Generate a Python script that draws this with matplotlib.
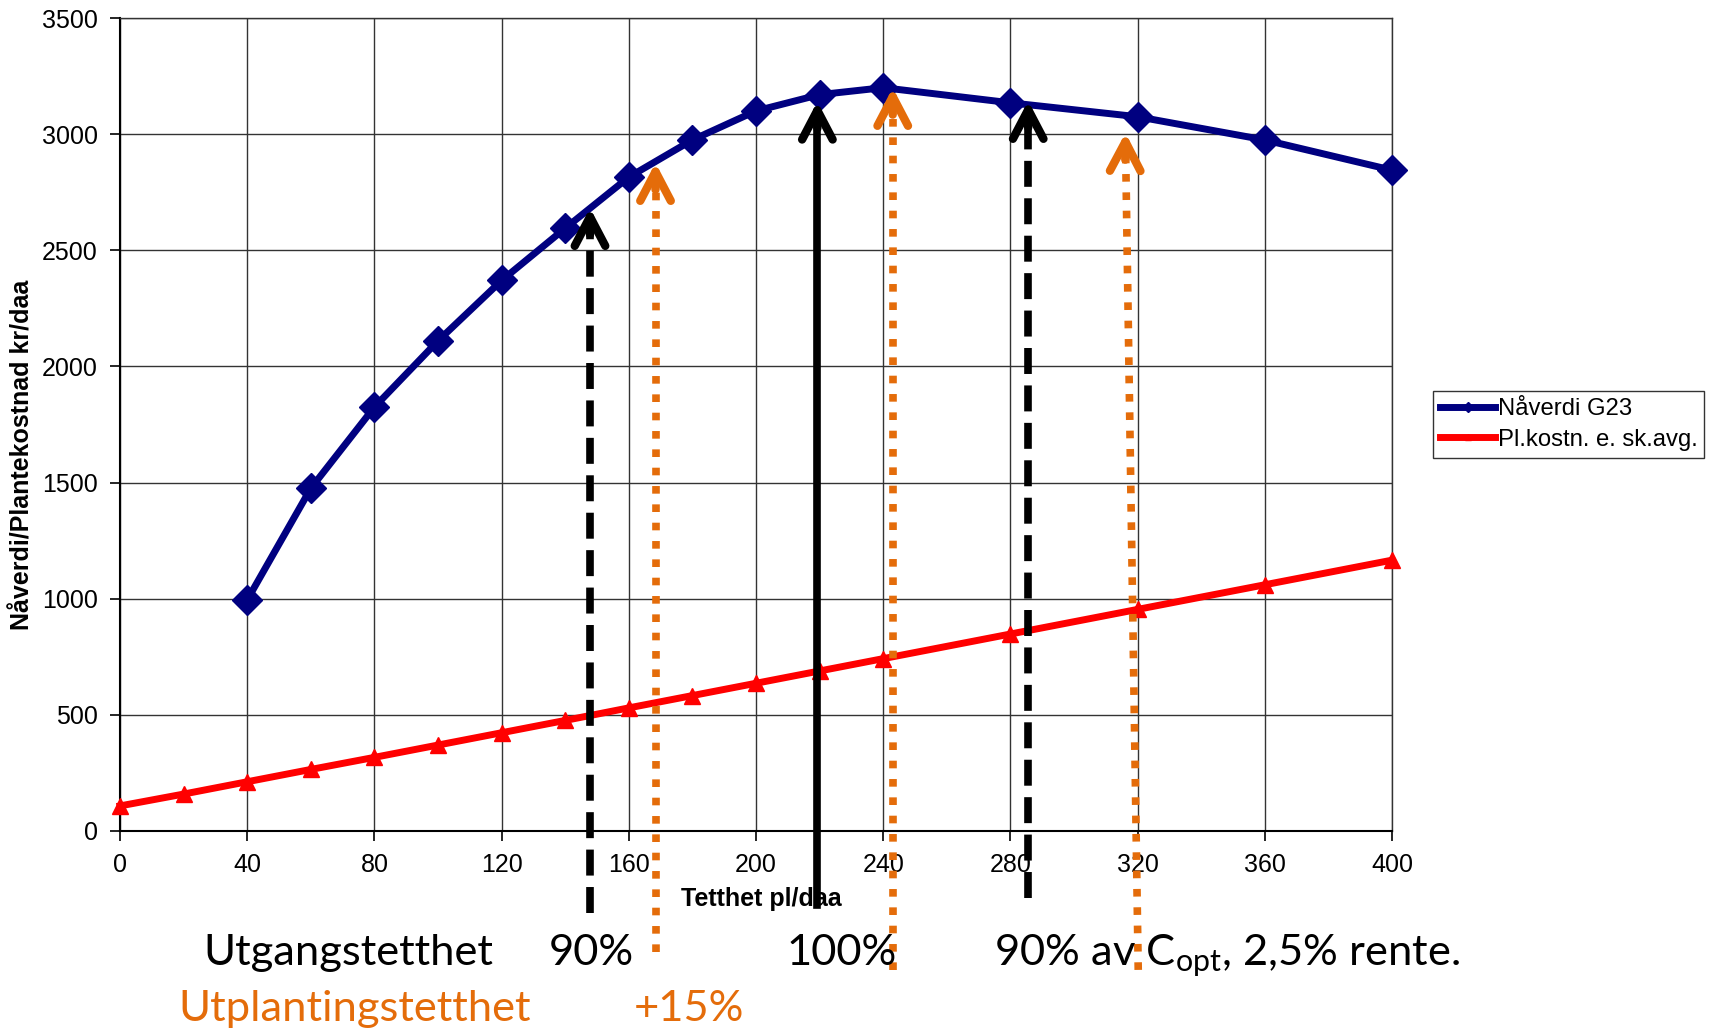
import numpy as np
import matplotlib
matplotlib.use("Agg")
import matplotlib.pyplot as plt

# Naaverdi G23
x_nv = [40, 60, 80, 100, 120, 140, 160, 180, 200, 220, 240, 280, 320, 360, 400]
y_nv = [995, 1475, 1825, 2110, 2370, 2595, 2815, 2975, 3100, 3170, 3200, 3135, 3075, 2975, 2845]

# Pl.kostn. e. sk.avg.
x_pk = [0, 20, 40, 60, 80, 100, 120, 140, 160, 180, 200, 220, 240, 280, 320, 360, 400]
y_pk = [108, 159, 212, 265, 317, 370, 423, 476, 530, 583, 636, 689, 742, 848, 954, 1060, 1166]

# arrows: x bottom, x top, y bottom, y top, style
arr_xb = [147.8, 168.4, 219.3, 243.0, 285.6, 320.2]
arr_xt = [147.8, 168.4, 219.3, 243.0, 285.6, 316.2]
arr_yb = [-353, -521, -319, -598, -288, -598]
arr_yt = [2695, 2889, 3153, 3212, 3156, 3018]
arr_kind = ["dash", "dot", "solid", "dot", "dash", "dot"]

orange = "#E46C0A"

plt.rcParams["font.family"] = ["Liberation Sans", "DejaVu Sans"]

fig = plt.figure(figsize=(17.12, 10.34), dpi=100)
ax = fig.add_axes([120/1712, 1-831/1034, (1392-120)/1712, (831-18)/1034])

ax.plot(x_nv, y_nv, color="#000080", lw=5, marker="D", ms=15, label="Nåverdi G23",
        zorder=4, clip_on=False)
ax.plot(x_pk, y_pk, color="#FF0000", lw=5, marker="^", ms=12, label="Pl.kostn. e. sk.avg.",
        zorder=4, clip_on=False)

ax.set_xlim(0, 400)
ax.set_ylim(0, 3500)
ax.set_xticks(np.arange(0, 401, 40))
ax.set_yticks(np.arange(0, 3501, 500))
ax.grid(True, color="#333333", lw=1)
ax.set_axisbelow(True)
ax.tick_params(labelsize=18, length=7, width=1.2, direction="out", pad=9)
for s in ["top", "right"]:
    ax.spines[s].set_color("#333333")
    ax.spines[s].set_linewidth(1)
for s in ["left", "bottom"]:
    ax.spines[s].set_linewidth(1.5)

for xb, xt, yb, yt, k in zip(arr_xb, arr_xt, arr_yb, arr_yt, arr_kind):
    if k == "dot":
        c, ls = orange, (0, (1.0, 1.4))
    elif k == "dash":
        c, ls = "black", (0, (3.4, 1.5))
    else:
        c, ls = "black", "-"
    ax.plot([xb, xt], [yb, yt - 60], color=c, lw=5.5, ls=ls,
            dash_capstyle="butt", clip_on=False, zorder=5)
    ax.annotate("", xy=(xt, yt), xytext=(xt + (xt - xb) * 0.02, yt - 140),
                arrowprops=dict(arrowstyle="->,head_length=1.05,head_width=0.55",
                                color=c, lw=6, mutation_scale=20, capstyle="round",
                                joinstyle="round"),
                annotation_clip=False, zorder=6)

fig.text(761/1712, 1-899/1034, "Tetthet pl/daa", fontsize=18, fontweight="bold",
         ha="center", va="center")
fig.text(23/1712, 1-455/1034, "Nåverdi/Plantekostnad kr/daa", fontsize=18,
         fontweight="bold", rotation=90, ha="center", va="center")

leg = fig.legend(loc="upper left", bbox_to_anchor=(1433/1712, 1-391/1034),
                 fontsize=17.2, frameon=True, fancybox=False, edgecolor="black",
                 handlelength=2.3, handletextpad=0.1, borderpad=0.3,
                 labelspacing=0.35, markerscale=0.35, borderaxespad=0)
leg.get_frame().set_linewidth(1)

bfont = ["Lato", "DejaVu Sans"]
fs = 31.3
fig.text(203/1712, 1-965/1034, "Utgangstetthet", fontsize=fs, family=bfont, va="baseline")
fig.text(549/1712, 1-965/1034, "90%", fontsize=fs, family=bfont, va="baseline")
fig.text(787/1712, 1-965/1034, "100%", fontsize=fs, family=bfont, va="baseline")
fig.text(994/1712, 1-965/1034, r"90% av C$_\mathregular{opt}$, 2,5% rente.", fontsize=fs,
         family=bfont, va="baseline")
fig.text(178/1712, 1-1021/1034, "Utplantingstetthet", fontsize=fs, family=bfont,
         va="baseline", color=orange)
fig.text(634/1712, 1-1021/1034, "+15%", fontsize=fs, family=bfont, va="baseline",
         color=orange)

fig.savefig("out.png", dpi=100)
